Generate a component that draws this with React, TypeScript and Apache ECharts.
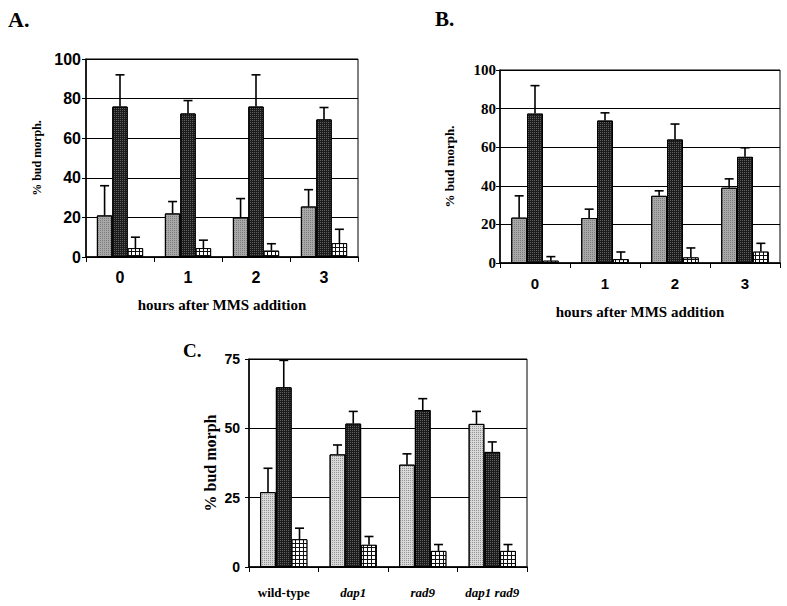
import React, { useEffect, useRef } from "react";
import * as echarts from "echarts";

const SANS = '"Liberation Sans", Arial, sans-serif';
const SERIF = '"Liberation Serif", "Times New Roman", serif';

// Panel A
const hoursCats = ["0", "1", "2", "3"];
const aLight = [21, 22, 20, 25.5];
const aLightErr = [15, 6, 9.5, 8.5];
const aDark = [76, 72.5, 76, 69.5];
const aDarkErr = [16, 6.5, 16, 6];
const aHatch = [4.5, 4.5, 3.2, 7];
const aHatchErr = [5.5, 4, 3.5, 7];

// Panel B
const bLight = [23.5, 23.3, 34.8, 39];
const bLightErr = [11.3, 4.6, 2.6, 4.6];
const bDark = [77.4, 73.8, 64, 55];
const bDarkErr = [14.5, 4, 8, 4.7];
const bHatch = [1.2, 2, 2.9, 5.9];
const bHatchErr = [2.1, 3.7, 4.9, 4.3];

// Panel C
const strainCats = ["wild-type", "dap1", "rad9", "dap1 rad9"];
const cLight = [27, 40.6, 36.9, 51.6];
const cLightErr = [8.6, 3.4, 3.9, 4.5];
const cDark = [64.8, 51.7, 56.6, 41.5];
const cDarkErr = [9.7, 4.4, 4.1, 3.6];
const cHatch = [10, 8, 5.8, 5.8];
const cHatchErr = [4, 3, 2.3, 2.3];

const yTicksAB = { min: 0, max: 100, interval: 20 };
const yTicksC = { min: 0, max: 75, interval: 25 };

const GROUP_FRAC = 0.68;

function barStyle(kind: string, light: string) {
  if (kind === "light") {
    return {
      color: light,
      borderColor: "#000",
      borderWidth: 1,
      decal: { symbol: "rect", symbolSize: 1, rotation: 0, color: "rgba(80,80,80,0.5)", dashArrayX: [1, 1], dashArrayY: [1, 1] },
    };
  }
  if (kind === "dark") {
    return {
      color: "#1c1c1c",
      borderColor: "#000",
      borderWidth: 1,
      decal: { symbol: "rect", symbolSize: 1, rotation: 0, color: "rgba(140,140,140,0.6)", dashArrayX: [1, 1], dashArrayY: [1, 1] },
    };
  }
  return {
    color: "#111",
    borderColor: "#000",
    borderWidth: 1,
    decal: { symbol: "rect", symbolSize: 1, rotation: 0, color: "#fff", dashArrayX: [3, 1], dashArrayY: [3, 1] },
  };
}

function errSeries(idx: number, k: number, vals: number[], errs: number[]) {
  return {
    type: "custom",
    xAxisIndex: idx,
    yAxisIndex: idx,
    z: 5,
    silent: true,
    data: vals.map((v, i) => [i, v, errs[i]]),
    encode: { x: 0, y: 1 },
    renderItem: (params: any, api: any) => {
      const x = api.value(0);
      const v = api.value(1);
      const e = api.value(2);
      const base = api.coord([x, v]);
      const top = api.coord([x, v + e]);
      const band = api.size([1, 0])[0];
      const bw = (band * GROUP_FRAC) / 3;
      const cx = base[0] + (k - 1) * bw;
      const style = { stroke: "#000", lineWidth: 1.6, fill: null };
      return {
        type: "group",
        children: [
          { type: "line", shape: { x1: cx, y1: base[1], x2: cx, y2: top[1] }, style },
          { type: "line", shape: { x1: cx - 4.5, y1: top[1], x2: cx + 4.5, y2: top[1] }, style },
        ],
      };
    },
  };
}

function bars(idx: number, light: number[], dark: number[], hatch: number[], lightColor: string) {
  const common = {
    type: "bar",
    xAxisIndex: idx,
    yAxisIndex: idx,
    barGap: "0%",
    barCategoryGap: "32%",
  };
  return [
    { ...common, data: light, itemStyle: barStyle("light", lightColor) },
    { ...common, data: dark, itemStyle: barStyle("dark", lightColor) },
    { ...common, data: hatch, itemStyle: barStyle("hatch", lightColor) },
  ];
}

export default function App() {
  const ref = useRef<HTMLDivElement>(null);
  useEffect(() => {
    if (!ref.current) return;
    const chart = echarts.init(ref.current, undefined, { renderer: "svg" });

    const grids = [
      { left: 86, top: 59, width: 272, height: 198 },
      { left: 500, top: 70, width: 280, height: 193 },
      { left: 249, top: 359, width: 278, height: 208 },
    ].map((g) => ({ ...g, show: true, borderColor: "#000", borderWidth: 1, backgroundColor: "transparent" }));

    const xBase = {
      type: "category",
      axisLine: { lineStyle: { color: "#000", width: 1.5 } },
      axisTick: { show: true, length: 5, lineStyle: { color: "#000", width: 1 } },
      nameLocation: "middle",
    };

    const xAxes = [
      {
        ...xBase,
        gridIndex: 0,
        data: hoursCats,
        axisLabel: { interval: 0, fontFamily: SANS, fontWeight: "bold", fontSize: 16, color: "#000", margin: 12 },
        name: "hours after MMS addition",
        nameGap: 40,
        nameTextStyle: { fontFamily: SERIF, fontWeight: "bold", fontSize: 15, color: "#000" },
      },
      {
        ...xBase,
        gridIndex: 1,
        data: hoursCats,
        axisLabel: { interval: 0, fontFamily: SANS, fontWeight: "bold", fontSize: 15, color: "#000", margin: 13 },
        name: "hours after MMS addition",
        nameGap: 41,
        nameTextStyle: { fontFamily: SERIF, fontWeight: "bold", fontSize: 15, color: "#000" },
      },
      {
        ...xBase,
        gridIndex: 2,
        data: strainCats,
        axisLabel: {
          interval: 0,
          hideOverlap: false,
          fontFamily: SERIF,
          fontWeight: "bold",
          fontSize: 13,
          color: "#000",
          margin: 19,
          formatter: (v: string) => (v === "wild-type" ? `{n|${v}}` : `{i|${v}}`),
          rich: {
            n: { fontFamily: SERIF, fontWeight: "bold", fontSize: 13, color: "#000" },
            i: { fontFamily: SERIF, fontWeight: "bold", fontStyle: "italic", fontSize: 13, color: "#000" },
          },
        },
      },
    ];

    const yBase = {
      type: "value",
      nameLocation: "middle",
      axisLine: { show: true, lineStyle: { color: "#000", width: 1.5 } },
      axisTick: { show: true, length: 4, lineStyle: { color: "#000" } },
      splitLine: { show: true, lineStyle: { color: "#000", width: 1 } },
    };

    const yAxes = [
      {
        ...yBase,
        gridIndex: 0,
        ...yTicksAB,
        axisLabel: { fontFamily: SANS, fontWeight: "bold", fontSize: 16, color: "#000", margin: 5 },
        name: "% bud morph.",
        nameGap: 43,
        nameTextStyle: { fontFamily: SERIF, fontWeight: "bold", fontSize: 12, color: "#000" },
      },
      {
        ...yBase,
        gridIndex: 1,
        ...yTicksAB,
        axisLabel: { fontFamily: SERIF, fontWeight: "bold", fontSize: 15, color: "#000", margin: 4 },
        name: "% bud morph.",
        nameGap: 44,
        nameTextStyle: { fontFamily: SERIF, fontWeight: "bold", fontSize: 13, color: "#000" },
      },
      {
        ...yBase,
        gridIndex: 2,
        ...yTicksC,
        axisLabel: { fontFamily: SANS, fontWeight: "bold", fontSize: 14, color: "#000", margin: 9 },
        name: "% bud morph",
        nameGap: 31,
        nameTextStyle: { fontFamily: SERIF, fontWeight: "bold", fontSize: 16, color: "#000" },
      },
    ];

    const series: any[] = [
      ...bars(0, aLight, aDark, aHatch, "#a8a8a8"),
      errSeries(0, 0, aLight, aLightErr),
      errSeries(0, 1, aDark, aDarkErr),
      errSeries(0, 2, aHatch, aHatchErr),
      ...bars(1, bLight, bDark, bHatch, "#a8a8a8"),
      errSeries(1, 0, bLight, bLightErr),
      errSeries(1, 1, bDark, bDarkErr),
      errSeries(1, 2, bHatch, bHatchErr),
      ...bars(2, cLight, cDark, cHatch, "#d8d8d8"),
      errSeries(2, 0, cLight, cLightErr),
      errSeries(2, 1, cDark, cDarkErr),
      errSeries(2, 2, cHatch, cHatchErr),
    ];

    chart.setOption({
      animation: false,
      backgroundColor: "#fff",
      aria: { enabled: true, decal: { show: true } },
      grid: grids,
      xAxis: xAxes,
      yAxis: yAxes,
      series,
      graphic: [
        { type: "text", left: 8, top: 8, style: { text: "A.", font: `bold 22px ${SERIF}`, fill: "#000" } },
        { type: "text", left: 435, top: 8, style: { text: "B.", font: `bold 21px ${SERIF}`, fill: "#000" } },
        { type: "text", left: 183, top: 341, style: { text: "C.", font: `bold 19px ${SERIF}`, fill: "#000" } },
      ],
    });
    return () => chart.dispose();
  }, []);
  return <div ref={ref} style={{ position: "absolute", left: 0, top: 0, width: 787, height: 606 }} />;
}
